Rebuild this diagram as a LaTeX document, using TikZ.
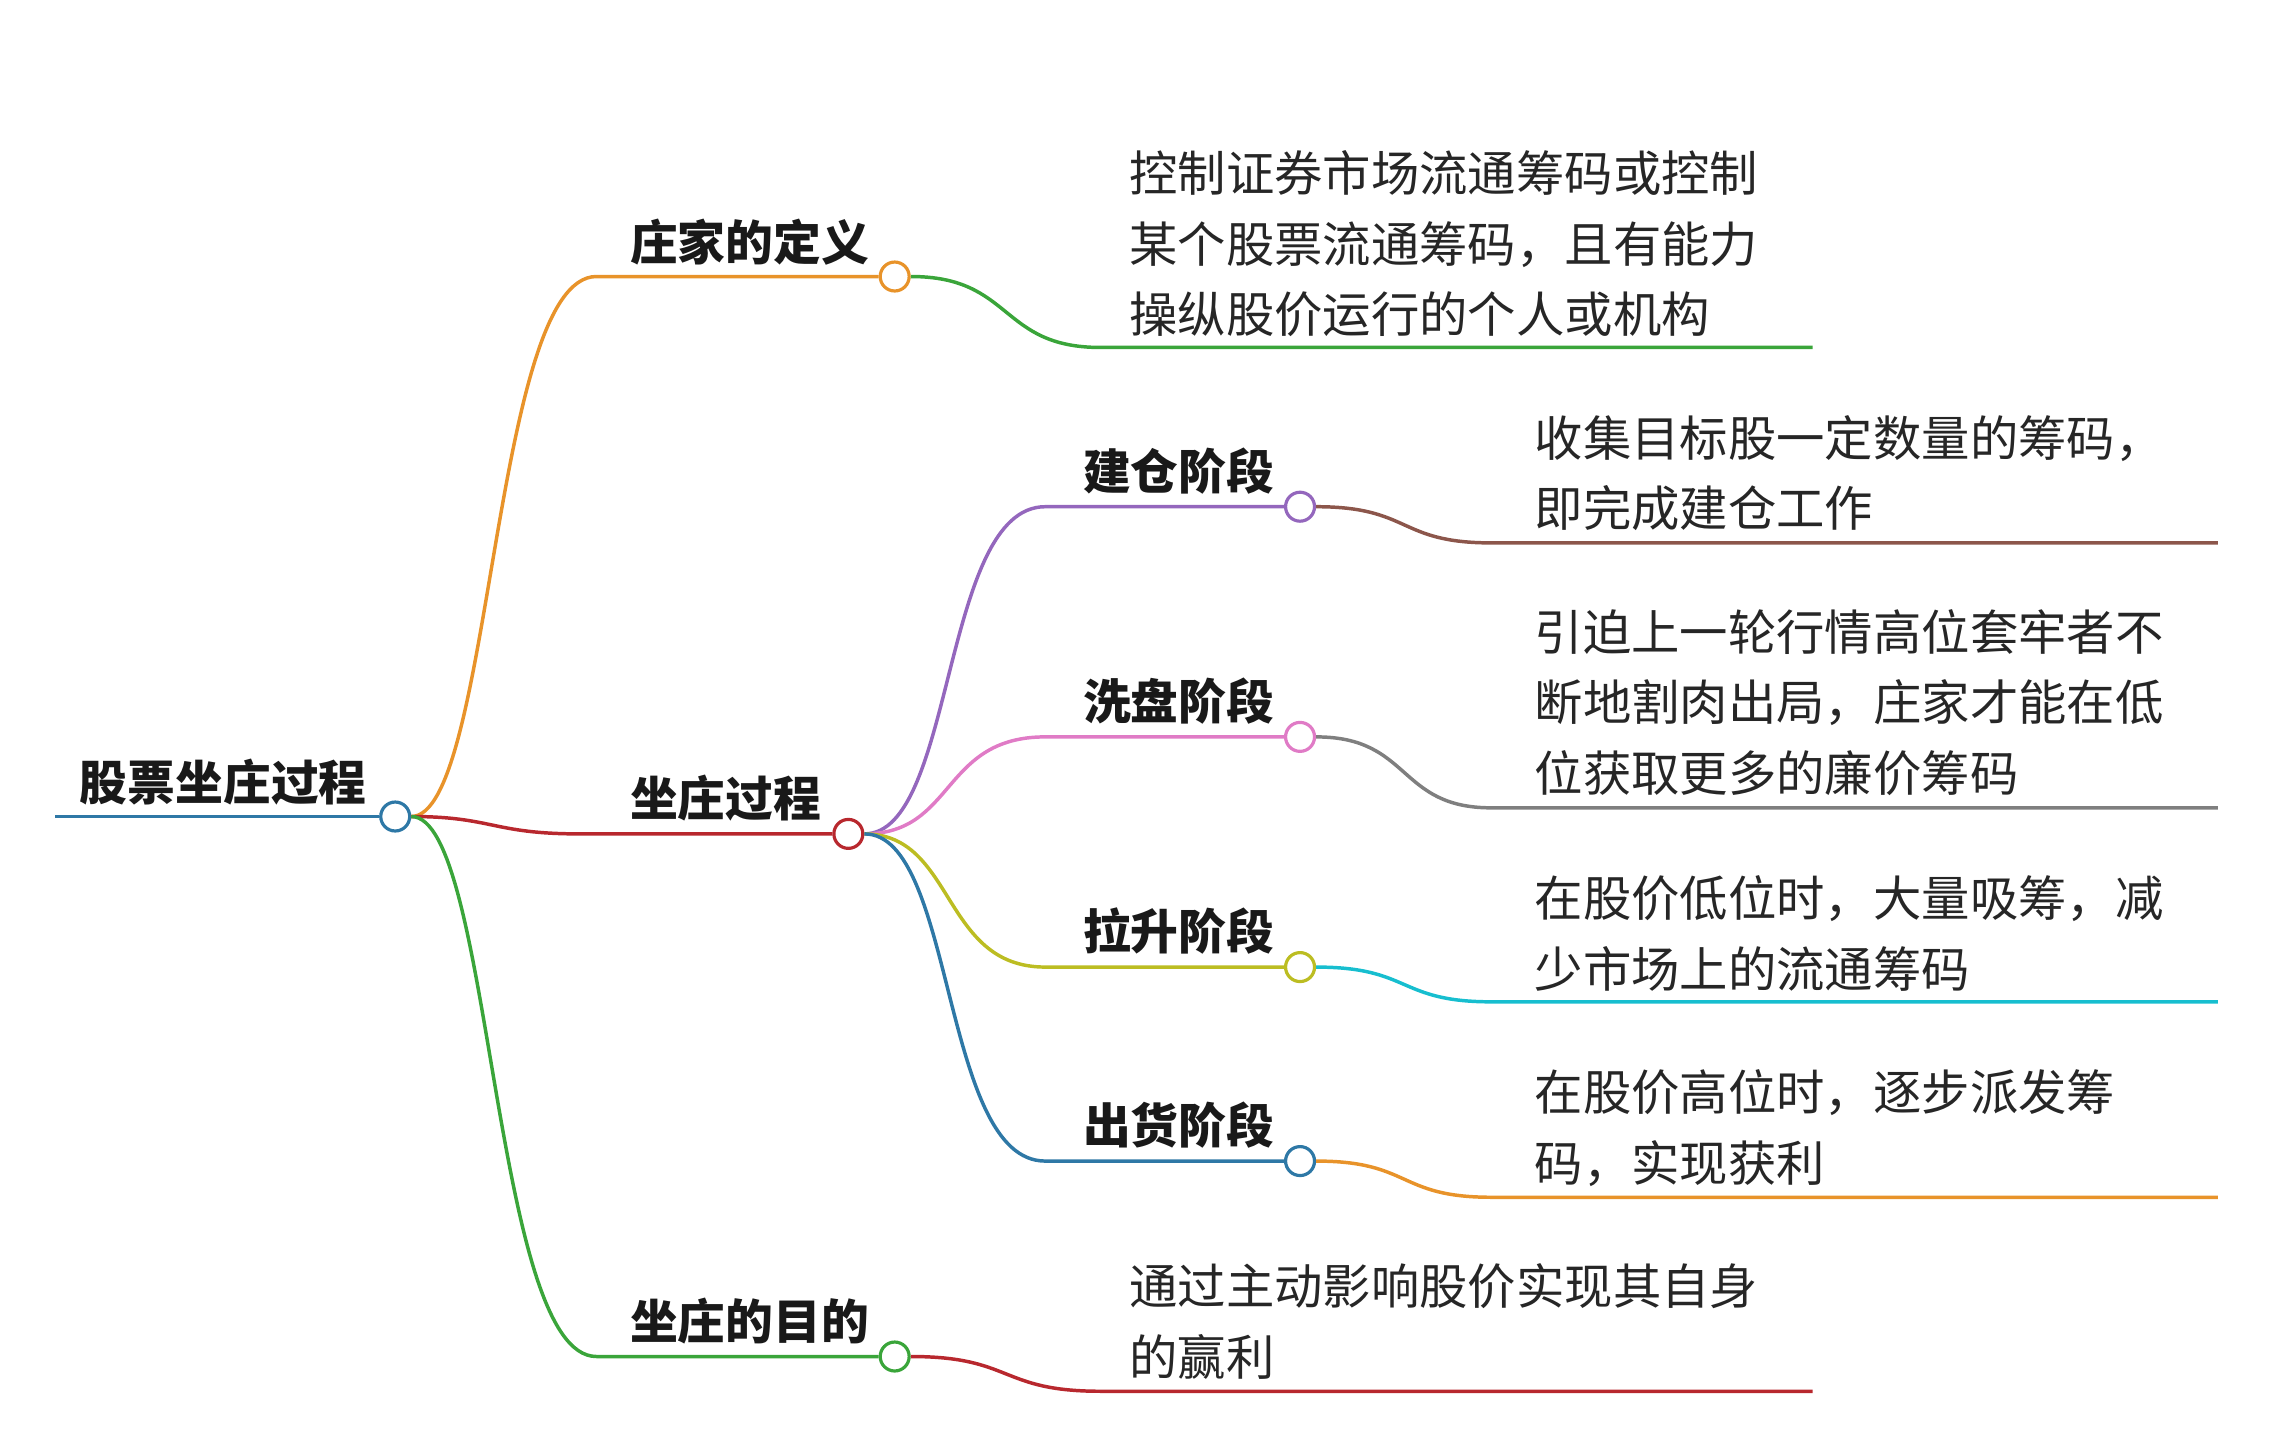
\documentclass[tikz,border=0pt]{standalone}
\usepackage{fontspec}
\setmainfont{Noto Sans CJK SC}
\begin{document}
\begin{tikzpicture}[x=1pt,y=-1pt,
  ln/.style={line width=2.4pt},
  dot/.style={circle,draw,fill=white,line width=2.2pt,minimum size=20pt,inner sep=0pt},
  ttl/.style={font=\fontsize{33}{40}\selectfont\bfseries,anchor=base west,inner sep=0pt,text=black!90},
  txt/.style={font=\fontsize{33.4}{49}\selectfont,anchor=base west,align=left,inner sep=0pt,text=black!85}]
\useasboundingbox (0,0) rectangle (1568,996);
\definecolor{cblue}{HTML}{2E78A6}
\definecolor{corange}{HTML}{E8932A}
\definecolor{cgreen}{HTML}{3AA53A}
\definecolor{cred}{HTML}{B8282E}
\definecolor{cpurple}{HTML}{9467BD}
\definecolor{cpink}{HTML}{E07BC6}
\definecolor{colive}{HTML}{BCBD22}
\definecolor{cbrown}{HTML}{8C564B}
\definecolor{cgray}{HTML}{7F7F7F}
\definecolor{ccyan}{HTML}{17BECF}
% root
\coordinate (r0) at (38,564);
\node[dot,draw=cblue] (r) at (273,564) {};
\draw[ln,cblue] (r0) -- (r.west);
\node[ttl] at (55,553) {股票坐庄过程};
% level 1
\node[dot,draw=corange] (a) at (618,191) {};
\node[dot,draw=cred] (b) at (586,576) {};
\node[dot,draw=cgreen] (c) at (618,937) {};
\coordinate (a0) at (412,191);
\coordinate (b0) at (400,576);
\coordinate (c0) at (412,937);
\draw[ln,corange] (r.east) .. controls (340,564) and (340,191) .. (a0) -- (a.west);
\draw[ln,cred] (r.east) .. controls (340,564) and (340,576) .. (b0) -- (b.west);
\draw[ln,cgreen] (r.east) .. controls (340,564) and (340,937) .. (c0) -- (c.west);
\node[ttl] at (435,180) {庄家的定义};
\node[ttl] at (435,564) {坐庄过程};
\node[ttl] at (435,925) {坐庄的目的};
% leaves of a and c
\coordinate (la) at (760,240); \coordinate (la1) at (1252,240);
\draw[ln,cgreen] (a.east) .. controls (700,191) and (690,240) .. (la) -- (la1);
\node[txt] at (780,230) {控制证券市场流通筹码或控制\\某个股票流通筹码，且有能力\\操纵股价运行的个人或机构};
\coordinate (lc) at (760,961); \coordinate (lc1) at (1252,961);
\draw[ln,cred] (c.east) .. controls (700,937) and (690,961) .. (lc) -- (lc1);
\node[txt] at (780,950) {通过主动影响股价实现其自身\\的赢利};
% level 2
\foreach \n/\y/\col/\lab in {d1/350/cpurple/建仓阶段,d2/509/cpink/洗盘阶段,d3/668/colive/拉升阶段,d4/802/cblue/出货阶段}{
  \node[dot,draw=\col] (\n) at (898,\y) {};
  \coordinate (\n s) at (722,\y);
  \draw[ln,\col] (b.east) .. controls (660,576) and (650,\y) .. (\n s) -- (\n.west);
  \node[ttl] at (748,\y-12) {\lab};
}
\foreach \n/\y/\yy/\col in {d1/350/375/cbrown,d2/509/558/cgray,d3/668/692/ccyan,d4/802/827/corange}{
  \coordinate (\n l) at (1030,\yy); \coordinate (\n e) at (1532,\yy);
  \draw[ln,\col] (\n.east) .. controls (975,\y) and (965,\yy) .. (\n l) -- (\n e);
}
\node[txt] at (1060,364) {收集目标股一定数量的筹码，\\即完成建仓工作};
\node[txt] at (1060,547) {引迫上一轮行情高位套牢者不\\断地割肉出局，庄家才能在低\\位获取更多的廉价筹码};
\node[txt] at (1060,682) {在股价低位时，大量吸筹，减\\少市场上的流通筹码};
\node[txt] at (1060,816) {在股价高位时，逐步派发筹\\码，实现获利};
\end{tikzpicture}
\end{document}
